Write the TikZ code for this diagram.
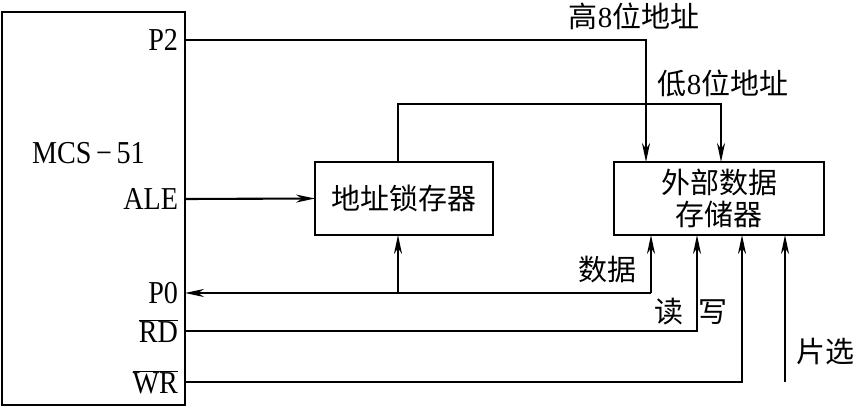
\documentclass[tikz,border=0pt]{standalone}
\usepackage{graphicx}
\usepackage{fontspec}
\setmainfont{Liberation Serif}
\newfontfamily\cjk{Noto Sans CJK SC}
\usetikzlibrary{arrows.meta}
\newcommand{\tallx}[1]{\scalebox{0.97}[1.1]{#1}}
\begin{document}
\begin{tikzpicture}[x=1pt,y=-1pt,
  every node/.style={inner sep=0pt,outer sep=0pt},
  box/.style={draw,line width=2.1pt,minimum width=#1},
  lbl/.style={font=\fontsize{29}{31}\selectfont},
  clbl/.style={font=\cjk\fontsize{29}{32}\selectfont},
  wire/.style={line width=2.1pt},
  arr/.style={wire,-{Stealth[length=19pt,width=8pt,inset=6pt]}}]
\useasboundingbox (0,0) rectangle (854,406);
% boxes
\node[box=183pt,minimum height=393pt] (mcs) at (93.5,208.5) {};
\node[box=178pt,minimum height=73pt,clbl] (latch) at (404,198.5) {地址锁存器};
\node[box=210pt,minimum height=73pt,clbl,align=center] (ext) at (719,198.5) {外部数据\\[0pt]存储器};
% pins
\coordinate (p2) at (185,40);
\coordinate (ale) at (185,199);
\coordinate (p0) at (185,293);
\coordinate (rd) at (185,331);
\coordinate (wr) at (185,382);
\coordinate (dj) at (651,293);
\coordinate (lj) at (398,293);
\coordinate (cs) at (785,382);
% pin labels
\node[lbl,anchor=east] at (178,40) {\tallx{P2}};
\node[lbl,anchor=west] at (32,153) {\tallx{MCS\,−\,51}};
\node[lbl,anchor=east] at (178,199) {\tallx{ALE}};
\node[lbl,anchor=east] at (178,293) {\tallx{P0}};
\node[lbl,anchor=east] at (178,331) {\tallx{$\overline{\hbox{RD}}$}};
\node[lbl,anchor=east] at (178,382) {\tallx{$\overline{\hbox{WR}}$}};
% connectors
\draw[arr] (p2) -| ([xshift=-73pt]ext.north);
\draw[arr] ([xshift=-6pt]latch.north) -- ++(0,-58) -| ([xshift=2pt]ext.north);
\draw[arr] (ale) -- (latch.west);
\draw[arr] (dj) -- (p0);
\draw[arr] (dj) -- (dj |- ext.south);
\draw[arr] (lj) -- (lj |- latch.south);
\draw[arr] (rd) -| ([xshift=-22pt]ext.south);
\draw[arr] (wr) -| ([xshift=23pt]ext.south);
\draw[arr] (cs) -- (cs |- ext.south);
% labels
\node[clbl] at (634,16) {高{\rmfamily 8}位地址};
\node[clbl] at (723,83) {低{\rmfamily 8}位地址};
\node[clbl] at (607,270) {数据};
\node[clbl] at (669,312) {读};
\node[clbl] at (713,312) {写};
\node[clbl] at (825,352) {片选};
\end{tikzpicture}
\end{document}
